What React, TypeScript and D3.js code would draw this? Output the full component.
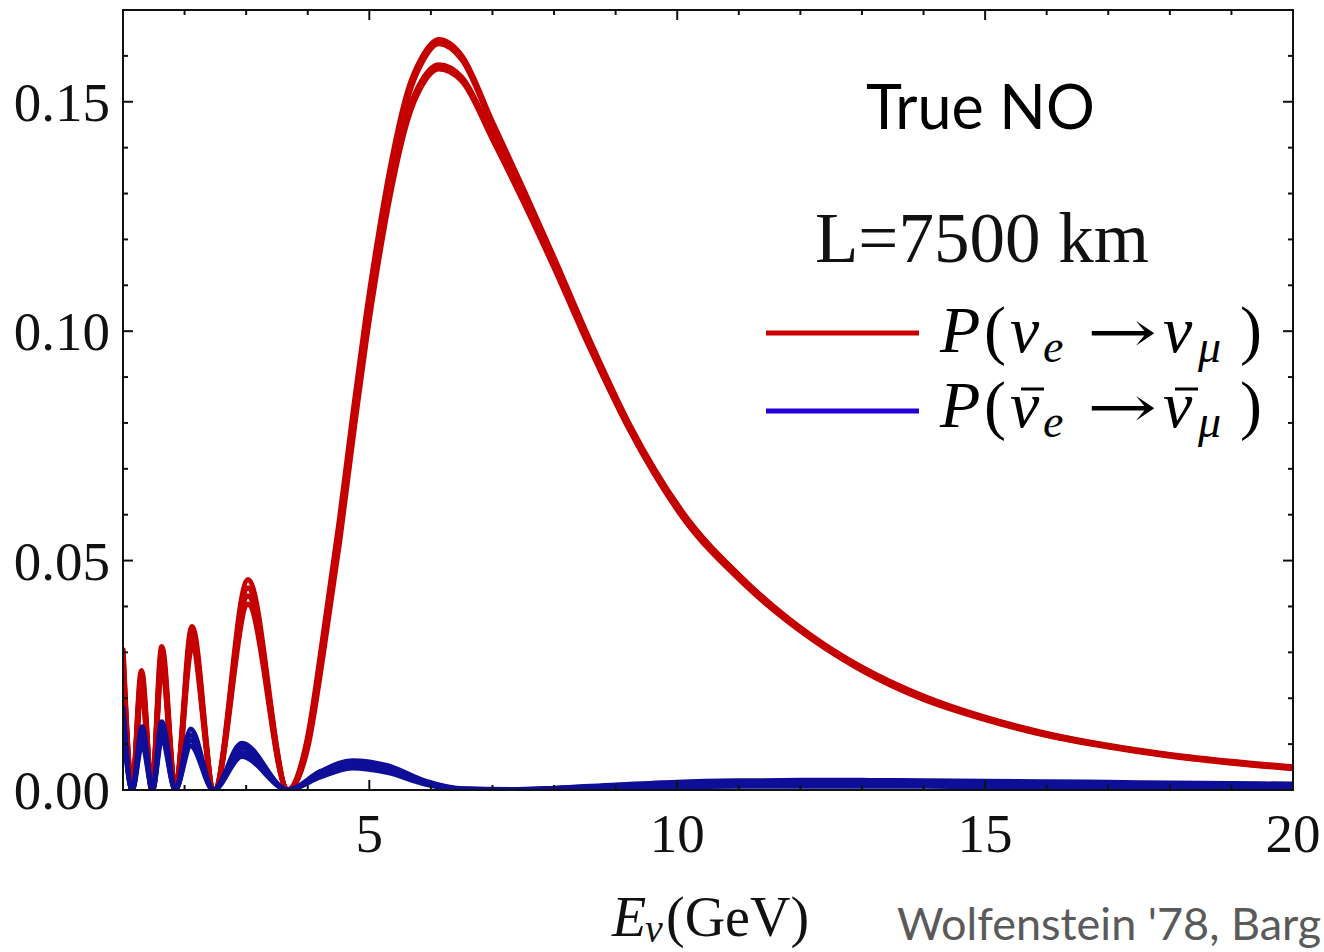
import React from "react";
import * as d3 from "d3";

// ---------- data ----------
const energyRed = [1.0, 1.15, 1.3, 1.47, 1.63, 1.85, 2.12, 2.48, 3.03, 3.68, 4.0, 4.25, 4.52, 4.75, 4.95, 5.15, 5.34, 5.63, 5.85, 6.13, 6.5, 7.0, 7.5, 8.0, 8.58, 9.23, 10.05, 11.13, 12.2, 13.0, 14.0, 15.0, 16.0, 17.0, 18.0, 19.0, 20.0];
const redA = [0.0305, 0, 0.026, 0, 0.0312, 0, 0.0356, 0, 0.0458, 0, 0.0115, 0.0335, 0.0592, 0.0835, 0.1035, 0.121, 0.1355, 0.1525, 0.1595, 0.1635, 0.16, 0.1455, 0.131, 0.116, 0.098, 0.0795, 0.0612, 0.0452, 0.0334, 0.0267, 0.0204, 0.0158, 0.0123, 0.0097, 0.0077, 0.0062, 0.005];
const redB = [0.0292, 0, 0.0247, 0, 0.0298, 0, 0.0341, 0, 0.044, 0, 0.0108, 0.0322, 0.0578, 0.082, 0.102, 0.1195, 0.134, 0.1512, 0.1585, 0.1627, 0.1593, 0.1449, 0.1304, 0.1155, 0.0976, 0.0792, 0.0609, 0.045, 0.0332, 0.0265, 0.0202, 0.0157, 0.0122, 0.0096, 0.0076, 0.0061, 0.0049];
const redC = [0.028, 0, 0.0235, 0, 0.0285, 0, 0.0327, 0, 0.0423, 0, 0.01, 0.0308, 0.056, 0.08, 0.0998, 0.117, 0.1312, 0.1478, 0.1545, 0.158, 0.1553, 0.1425, 0.1288, 0.1143, 0.0968, 0.0787, 0.0605, 0.0447, 0.033, 0.0263, 0.02, 0.0155, 0.012, 0.0095, 0.0075, 0.006, 0.0048];
const redD = [0.0268, 0, 0.0224, 0, 0.0272, 0, 0.0313, 0, 0.0405, 0, 0.0094, 0.0296, 0.0546, 0.0785, 0.0982, 0.1155, 0.1298, 0.1465, 0.1535, 0.1572, 0.1546, 0.1419, 0.1283, 0.1139, 0.0964, 0.0784, 0.0602, 0.0444, 0.0328, 0.0261, 0.0198, 0.0154, 0.0119, 0.0094, 0.0074, 0.0059, 0.0047];

const energyBlue = [1.0, 1.15, 1.31, 1.48, 1.63, 1.85, 2.1, 2.47, 2.93, 3.68, 4.2, 4.72, 5.3, 5.9, 6.5, 7.3, 8.0, 9.0, 10.0, 11.0, 12.0, 13.0, 14.0, 15.0, 16.0, 17.0, 18.0, 19.0, 20.0];
const blueA = [0.018, 0, 0.0138, 0, 0.0149, 0, 0.0133, 0, 0.0102, 0, 0.004, 0.0064, 0.0053, 0.002, 0.0003, 0.0001, 0.0004, 0.0011, 0.0017, 0.002, 0.0021, 0.0021, 0.002, 0.0019, 0.0018, 0.0017, 0.0015, 0.0014, 0.0013];
const blueB = [0.0167, 0, 0.0125, 0, 0.0135, 0, 0.012, 0, 0.0092, 0, 0.0036, 0.0059, 0.0048, 0.0018, 0.0002, 0.0001, 0.0003, 0.0009, 0.0014, 0.0016, 0.0017, 0.0017, 0.0016, 0.0015, 0.0014, 0.0013, 0.0012, 0.0011, 0.001];
const blueC = [0.0154, 0, 0.0112, 0, 0.0122, 0, 0.0108, 0, 0.0082, 0, 0.0032, 0.0053, 0.0043, 0.0015, 0.0002, 0.0, 0.0002, 0.0006, 0.001, 0.0012, 0.0012, 0.0012, 0.0012, 0.0011, 0.001, 0.001, 0.0009, 0.0008, 0.0007];
const blueD = [0.0142, 0, 0.01, 0, 0.011, 0, 0.0096, 0, 0.0073, 0, 0.0028, 0.0048, 0.0038, 0.0013, 0.0001, 0.0, 0.0001, 0.0004, 0.0007, 0.0008, 0.0008, 0.0008, 0.0008, 0.0007, 0.0007, 0.0006, 0.0006, 0.0005, 0.0005];

const xMajorTicks = [5, 10, 15, 20];
const yMajorTicks = [0, 0.05, 0.1, 0.15];
const xDomain = [1, 20];
const yDomain = [0, 0.17];

const redSeries = [redA, redB, redC, redD];
const blueSeries = [blueA, blueB, blueC, blueD];

// ---------- layout ----------
const W = 1324;
const H = 952;
const PL = 123, PR = 1293, PT = 10, PB = 790;
const RED = "#c40000";
const BLUE = "#0e0e98";
const SERIF = "'Liberation Serif', 'Times New Roman', serif";
const SANS = "Lato, 'Open Sans', sans-serif";

export default function App() {
  const x = d3.scaleLinear().domain(xDomain).range([PL, PR]);
  const y = d3.scaleLinear().domain(yDomain).range([PB, PT]);

  const makePath = (xs: number[], ys: number[]) =>
    d3
      .line<number>()
      .x((_, i) => x(xs[i]))
      .y((d) => y(d))
      .curve(d3.curveMonotoneX)(ys) || "";

  const xMinor = d3.range(2, 20).filter((v) => !xMajorTicks.includes(v));
  const yMinor = d3.range(1, 17).map((v) => v / 100).filter((v) => Math.round(v * 100) % 5 !== 0);
  const fmt = d3.format(".2f");

  const legendRows = [
    { color: "#cc0000", lineY: 333, base: 352, bar: false },
    { color: "#2200d8", lineY: 411, base: 427, bar: true },
  ];

  return (
    <div>
      <style>{`body{margin:0;}`}</style>
      <svg width={W} height={H} viewBox={`0 0 ${W} ${H}`} style={{ display: "block", background: "#fff" }}>
        <defs>
          <clipPath id="plotclip">
            <rect x={PL} y={PT} width={PR - PL} height={PB - PT} />
          </clipPath>
        </defs>
        <rect x={0} y={0} width={W} height={H} fill="#fff" />

        {/* curves */}
        <g clipPath="url(#plotclip)" fill="none" strokeLinejoin="round" strokeLinecap="round">
          {redSeries.map((s, i) => (
            <path key={"r" + i} d={makePath(energyRed, s)} stroke={RED} strokeWidth={5.5} />
          ))}
          {blueSeries.map((s, i) => (
            <path key={"b" + i} d={makePath(energyBlue, s)} stroke={BLUE} strokeWidth={5} />
          ))}
        </g>

        {/* frame */}
        <rect x={PL} y={PT} width={PR - PL} height={PB - PT} fill="none" stroke="#111" strokeWidth={2} />

        {/* ticks */}
        <g stroke="#111" strokeWidth={2}>
          {xMajorTicks.map((t) => (
            <g key={"xM" + t}>
              <line x1={x(t)} x2={x(t)} y1={PB} y2={PB - 10} />
              <line x1={x(t)} x2={x(t)} y1={PT} y2={PT + 10} />
            </g>
          ))}
          {xMinor.map((t) => (
            <g key={"xm" + t}>
              <line x1={x(t)} x2={x(t)} y1={PB} y2={PB - 5} />
              <line x1={x(t)} x2={x(t)} y1={PT} y2={PT + 5} />
            </g>
          ))}
          {yMajorTicks.map((t) => (
            <g key={"yM" + t}>
              <line x1={PL} x2={PL + 10} y1={y(t)} y2={y(t)} />
              <line x1={PR} x2={PR - 10} y1={y(t)} y2={y(t)} />
            </g>
          ))}
          {yMinor.map((t) => (
            <g key={"ym" + t}>
              <line x1={PL} x2={PL + 5} y1={y(t)} y2={y(t)} />
              <line x1={PR} x2={PR - 5} y1={y(t)} y2={y(t)} />
            </g>
          ))}
        </g>

        {/* tick labels */}
        <g fontFamily={SERIF} fontSize={55} fill="#111">
          {yMajorTicks.map((t) => (
            <text key={"yl" + t} x={110} y={y(t) + 19} textAnchor="end">
              {fmt(t)}
            </text>
          ))}
          {xMajorTicks.map((t) => (
            <text key={"xl" + t} x={x(t)} y={852} textAnchor="middle">
              {t}
            </text>
          ))}
        </g>

        {/* axis title */}
        <g fontFamily={SERIF} fill="#111">
          <text x={612} y={936} fontSize={56} fontStyle="italic">E</text>
          <text x={645} y={942} fontSize={40} fontStyle="italic">ν</text>
          <text x={666} y={936} fontSize={56}>(GeV)</text>
        </g>

        {/* annotations */}
        <text x={866} y={129} fontFamily={SANS} fontSize={61} fill="#000">True NO</text>
        <text x={815} y={262} fontFamily={SERIF} fontSize={71} fill="#111">L=7500 km</text>

        {/* legend */}
        {legendRows.map((r, i) => (
          <g key={"lg" + i}>
            <line x1={766} x2={919} y1={r.lineY} y2={r.lineY} stroke={r.color} strokeWidth={5} />
            <g fontFamily={SERIF} fill="#000" fontSize={66}>
              <text x={940} y={r.base} fontStyle="italic">P</text>
              <text x={984} y={r.base}>(</text>
              <text x={1010} y={r.base} fontStyle="italic">ν</text>
              <text x={1043} y={r.base + 10} fontStyle="italic" fontSize={46}>e</text>
              <text x={1087} y={r.base} fontFamily="'DejaVu Serif', serif" fontSize={58} textLength={70} lengthAdjust="spacingAndGlyphs">→</text>
              <text x={1163} y={r.base} fontStyle="italic">ν</text>
              <text x={1198} y={r.base + 10} fontStyle="italic" fontSize={46}>μ</text>
              <text x={1240} y={r.base}>)</text>
            </g>
            {r.bar && (
              <g stroke="#000" strokeWidth={3}>
                <line x1={1021} x2={1044} y1={r.base - 38} y2={r.base - 38} />
                <line x1={1175} x2={1198} y1={r.base - 38} y2={r.base - 38} />
              </g>
            )}
          </g>
        ))}

        {/* credit */}
        <text x={897} y={940} fontFamily={SANS} fontSize={45} fill="#5a5a5a">Wolfenstein '78, Barg</text>
      </svg>
    </div>
  );
}
